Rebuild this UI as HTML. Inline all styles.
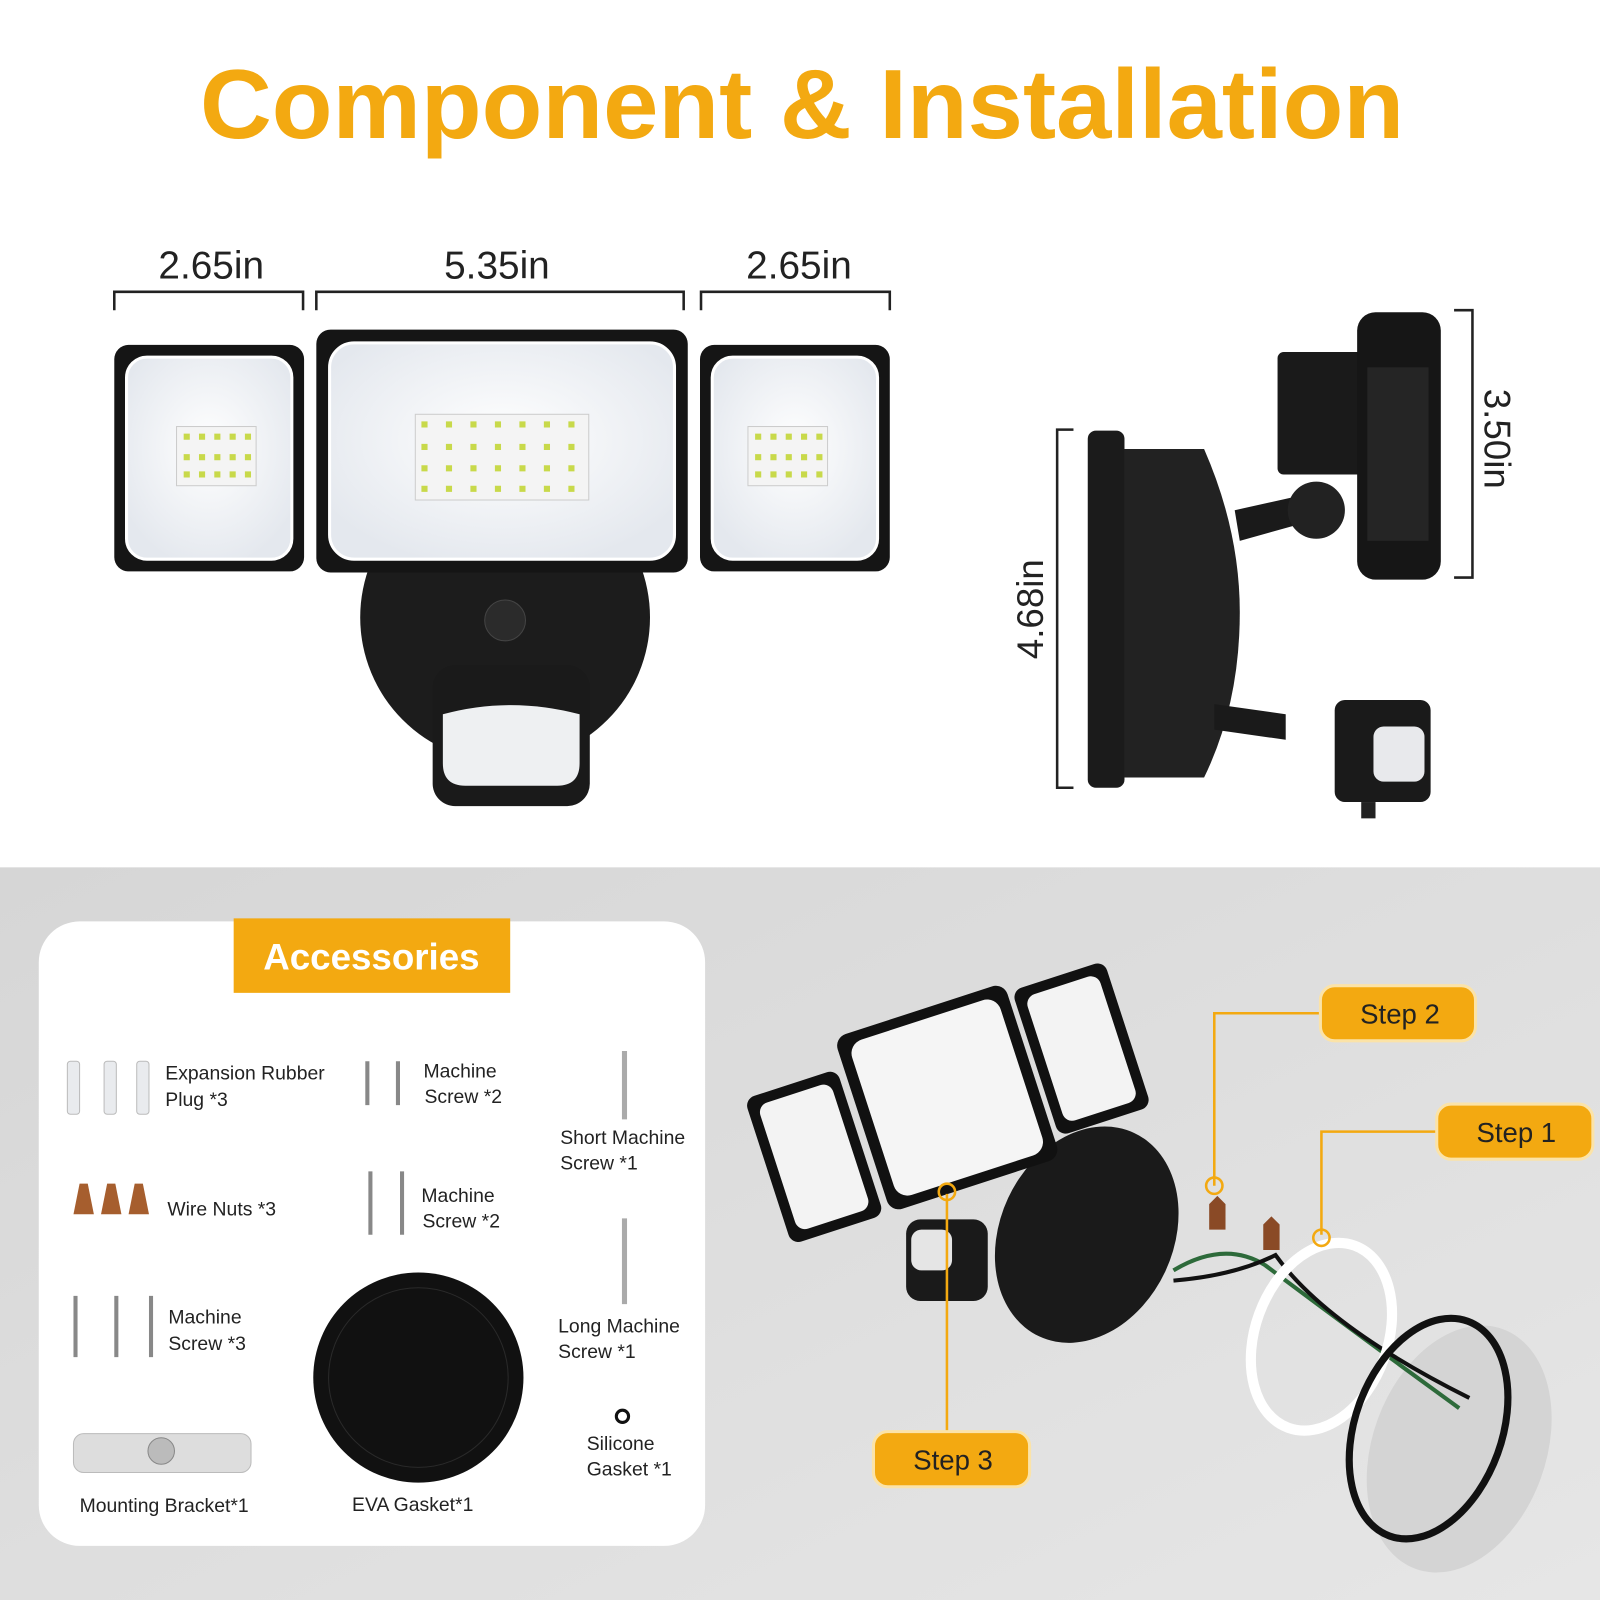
<!DOCTYPE html>
<html><head><meta charset="utf-8"><style>
html,body{margin:0;padding:0;background:#fff}
svg{display:block}
text{font-family:"Liberation Sans",sans-serif}
</style></head><body>
<svg width="1600" height="1600" viewBox="0 0 1568 1568" xmlns="http://www.w3.org/2000/svg">
<defs>
<linearGradient id="bg" x1="0" y1="0" x2="1" y2="1"><stop offset="0" stop-color="#d6d6d6"/><stop offset="1" stop-color="#e6e6e6"/></linearGradient>
<radialGradient id="pan" cx="0.5" cy="0.45" r="0.6"><stop offset="0" stop-color="#ffffff"/><stop offset="1" stop-color="#e4e8ee"/></radialGradient>
</defs>
<rect width="1568" height="1568" fill="#fff"/>
<rect y="850" width="1568" height="718" fill="url(#bg)"/>
<text x="786" y="135" text-anchor="middle" font-size="96" font-weight="bold" fill="#f3a911" textLength="1180" lengthAdjust="spacingAndGlyphs">Component &amp; Installation</text>

<!-- dimensions -->
<g font-size="38" fill="#222" text-anchor="middle">
<text x="207" y="273">2.65in</text><text x="487" y="273">5.35in</text><text x="783" y="273">2.65in</text>
</g>
<g stroke="#222" stroke-width="2.5" fill="none">
<path d="M112 304V286H297V304"/><path d="M310 304V286H670V304"/><path d="M687 304V286H872V304"/>
<path d="M1052 421H1036V772H1052"/><path d="M1425 304H1443V566H1425"/>
</g>
<text transform="translate(1022 597) rotate(-90)" text-anchor="middle" font-size="36" fill="#222">4.68in</text>
<text transform="translate(1455 430) rotate(90)" text-anchor="middle" font-size="36" fill="#222">3.50in</text>

<!-- front fixture -->
<circle cx="495" cy="605" r="142" fill="#1c1c1c"/>
<circle cx="495" cy="608" r="20" fill="#2b2b2b" stroke="#444"/>
<rect x="112" y="338" width="186" height="222" rx="14" fill="#151515"/>
<rect x="124" y="350" width="162" height="198" rx="20" fill="url(#pan)" stroke="#fff" stroke-width="3"/>
<rect x="310" y="323" width="364" height="238" rx="14" fill="#151515"/>
<rect x="323" y="336" width="338" height="212" rx="24" fill="url(#pan)" stroke="#fff" stroke-width="3"/>
<rect x="686" y="338" width="186" height="222" rx="14" fill="#151515"/>
<rect x="698" y="350" width="162" height="198" rx="20" fill="url(#pan)" stroke="#fff" stroke-width="3"/>
<rect x="173" y="418" width="78" height="58" fill="#f4f4f4" stroke="#ccc"/>
<rect x="407" y="406" width="170" height="84" fill="#f4f4f4" stroke="#ccc"/>
<rect x="733" y="418" width="78" height="58" fill="#f4f4f4" stroke="#ccc"/>
<g fill="#c8d94a">
<path d="M180 425h6v6h-6zM195 425h6v6h-6zM210 425h6v6h-6zM225 425h6v6h-6zM240 425h6v6h-6zM180 445h6v6h-6zM195 445h6v6h-6zM210 445h6v6h-6zM225 445h6v6h-6zM240 445h6v6h-6zM180 462h6v6h-6zM195 462h6v6h-6zM210 462h6v6h-6zM225 462h6v6h-6zM240 462h6v6h-6z"/>
<path d="M740 425h6v6h-6zM755 425h6v6h-6zM770 425h6v6h-6zM785 425h6v6h-6zM800 425h6v6h-6zM740 445h6v6h-6zM755 445h6v6h-6zM770 445h6v6h-6zM785 445h6v6h-6zM800 445h6v6h-6zM740 462h6v6h-6zM755 462h6v6h-6zM770 462h6v6h-6zM785 462h6v6h-6zM800 462h6v6h-6z"/>
<path d="M413 413h6v6h-6zM437 413h6v6h-6zM461 413h6v6h-6zM485 413h6v6h-6zM509 413h6v6h-6zM533 413h6v6h-6zM557 413h6v6h-6zM413 435h6v6h-6zM437 435h6v6h-6zM461 435h6v6h-6zM485 435h6v6h-6zM509 435h6v6h-6zM533 435h6v6h-6zM557 435h6v6h-6zM413 456h6v6h-6zM437 456h6v6h-6zM461 456h6v6h-6zM485 456h6v6h-6zM509 456h6v6h-6zM533 456h6v6h-6zM557 456h6v6h-6zM413 476h6v6h-6zM437 476h6v6h-6zM461 476h6v6h-6zM485 476h6v6h-6zM509 476h6v6h-6zM533 476h6v6h-6zM557 476h6v6h-6z"/>
</g>
<rect x="424" y="652" width="154" height="138" rx="22" fill="#1a1a1a"/>
<path d="M434 700Q500 682 568 700V748Q568 770 546 770H456Q434 770 434 748Z" fill="#eef0f2"/>

<!-- side view -->
<rect x="1066" y="422" width="36" height="350" rx="8" fill="#1b1b1b"/>
<path d="M1102 440H1180Q1215 520 1215 600Q1215 690 1180 762H1102Z" fill="#222"/>
<rect x="1252" y="345" width="90" height="120" rx="6" fill="#1a1a1a"/>
<rect x="1330" y="306" width="82" height="262" rx="18" fill="#161616"/>
<rect x="1340" y="360" width="60" height="170" fill="#252525"/>
<path d="M1210 500L1300 480L1305 505L1215 530Z" fill="#1a1a1a"/>
<circle cx="1290" cy="500" r="28" fill="#222"/>
<path d="M1190 690L1260 700L1260 725L1190 715Z" fill="#1a1a1a"/>
<rect x="1308" y="686" width="94" height="100" rx="10" fill="#1a1a1a"/>
<rect x="1346" y="712" width="50" height="54" rx="10" fill="#e8e9ec"/>
<rect x="1334" y="786" width="14" height="16" fill="#222"/>

<!-- accessories panel -->
<rect x="38" y="903" width="653" height="612" rx="40" fill="#fff"/>
<rect x="229" y="900" width="271" height="73" fill="#f3a911"/>
<text x="364" y="950" text-anchor="middle" font-size="36" font-weight="bold" fill="#fff">Accessories</text>
<g font-size="19" fill="#222">
<text x="162" y="1058">Expansion Rubber</text><text x="162" y="1084">Plug *3</text>
<text x="415" y="1056">Machine</text><text x="416" y="1081">Screw *2</text>
<text x="549" y="1121">Short  Machine</text><text x="549" y="1146">Screw *1</text>
<text x="164" y="1191">Wire Nuts *3</text>
<text x="413" y="1178">Machine</text><text x="414" y="1203">Screw *2</text>
<text x="165" y="1297">Machine</text><text x="165" y="1323">Screw *3</text>
<text x="547" y="1306">Long  Machine</text><text x="547" y="1331">Screw *1</text>
<text x="575" y="1421">Silicone</text><text x="575" y="1446">Gasket *1</text>
<text x="78" y="1482">Mounting Bracket*1</text>
<text x="345" y="1481">EVA Gasket*1</text>
</g>
<g fill="#e9ebee" stroke="#bbb" stroke-width="1">
<rect x="66" y="1040" width="12" height="52" rx="3"/><rect x="102" y="1040" width="12" height="52" rx="3"/><rect x="134" y="1040" width="12" height="52" rx="3"/>
</g>
<g fill="#a65e2e">
<path d="M72 1190L78 1160H86L92 1190Z"/><path d="M99 1190L105 1160H113L119 1190Z"/><path d="M126 1190L132 1160H140L146 1190Z"/>
</g>
<g stroke="#888" stroke-width="4">
<path d="M360 1040V1083M390 1040V1083M363 1148V1210M394 1148V1210M74 1270V1330M114 1270V1330M148 1270V1330"/>
<path d="M612 1030V1097M612 1194V1278" stroke="#aaa" stroke-width="5"/>
</g>
<circle cx="410" cy="1350" r="103" fill="#111"/>
<circle cx="410" cy="1350" r="88" fill="none" stroke="#2a2a2a"/>
<circle cx="610" cy="1388" r="6" fill="none" stroke="#111" stroke-width="3"/>
<rect x="72" y="1405" width="174" height="38" rx="10" fill="#ddd" stroke="#bbb"/>
<circle cx="158" cy="1422" r="13" fill="#bbb" stroke="#888"/>

<!-- installation illustration -->
<ellipse cx="1430" cy="1420" rx="85" ry="125" transform="rotate(20 1430 1420)" fill="#d4d4d4"/>
<ellipse cx="1065" cy="1210" rx="85" ry="110" transform="rotate(25 1065 1210)" fill="#1a1a1a"/>
<g transform="rotate(-18 910 1050)">
<rect x="730" y="1020" width="95" height="150" rx="10" fill="#111"/>
<rect x="740" y="1030" width="75" height="130" rx="10" fill="#f3f3f3"/>
<rect x="832" y="990" width="175" height="180" rx="12" fill="#111"/>
<rect x="843" y="1000" width="153" height="160" rx="14" fill="#f5f5f5"/>
<rect x="1012" y="1000" width="95" height="150" rx="10" fill="#111"/>
<rect x="1022" y="1010" width="75" height="130" rx="10" fill="#f3f3f3"/>
</g>
<rect x="888" y="1195" width="80" height="80" rx="14" fill="#1a1a1a"/>
<rect x="893" y="1205" width="40" height="40" rx="10" fill="#e5e5e5"/>
<path d="M1150 1245Q1200 1215 1240 1240Q1320 1300 1430 1380" stroke="#2d6a3a" stroke-width="4" fill="none"/>
<path d="M1150 1255Q1210 1250 1250 1230Q1300 1300 1440 1370" stroke="#111" stroke-width="4" fill="none"/>
<ellipse cx="1295" cy="1310" rx="65" ry="95" transform="rotate(20 1295 1310)" fill="none" stroke="#fff" stroke-width="10"/>
<ellipse cx="1400" cy="1400" rx="72" ry="112" transform="rotate(20 1400 1400)" fill="none" stroke="#111" stroke-width="7"/>
<path d="M1185 1180l8 -8 8 8v25h-16zM1238 1200l8-8 8 8v25h-16z" fill="#8a4a26"/>
<g stroke="#f3a911" stroke-width="2.5" fill="none">
<path d="M1190 1162V993H1296"/><path d="M1295 1210V1109H1410"/><path d="M928 1170V1430H857"/>
<circle cx="1190" cy="1162" r="8"/><circle cx="1295" cy="1213" r="8"/><circle cx="928" cy="1168" r="8"/>
</g>
<g>
<rect x="1294" y="966" width="152" height="54" rx="14" fill="#f3a911" stroke="#fbe3a8" stroke-width="3"/>
<text x="1372" y="1003" text-anchor="middle" font-size="27" fill="#222">Step 2</text>
<rect x="1408" y="1082" width="153" height="54" rx="14" fill="#f3a911" stroke="#fbe3a8" stroke-width="3"/>
<text x="1486" y="1119" text-anchor="middle" font-size="27" fill="#222">Step 1</text>
<rect x="856" y="1403" width="153" height="54" rx="14" fill="#f3a911" stroke="#fbe3a8" stroke-width="3"/>
<text x="934" y="1440" text-anchor="middle" font-size="27" fill="#222">Step 3</text>
</g>
</svg>
</body></html>
